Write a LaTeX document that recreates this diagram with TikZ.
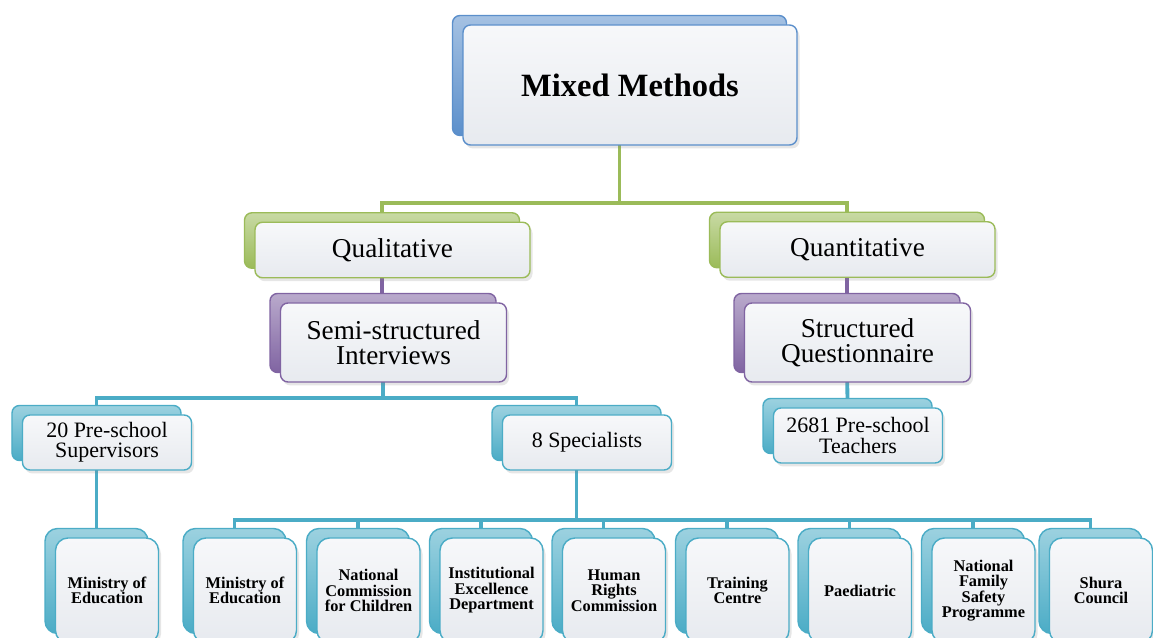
\documentclass[tikz,border=0pt]{standalone}
\usepackage{fontspec}
\setmainfont{Liberation Serif}
\usetikzlibrary{backgrounds, shadows}

\definecolor{mmblue}{HTML}{5B8FCB}
\definecolor{mmgreen}{HTML}{9BBB59}
\definecolor{mmpurple}{HTML}{8064A2}
\definecolor{mmteal}{HTML}{4BACC6}
\definecolor{cardtop}{HTML}{F7F8FA}
\definecolor{cardbot}{HTML}{E7EAEF}

\begin{document}
\begin{tikzpicture}[
    card/.style={draw=#1, line width=0.8pt, rounded corners=0.15cm, top color=cardtop, bottom color=cardbot,
      text=black, align=center, inner sep=1pt, xshift=0.21cm, yshift=-0.19cm,
      drop shadow={opacity=0.2, shadow xshift=0.05cm, shadow yshift=-0.07cm}},
    cardback/.style={draw=#1, line width=0.8pt, rounded corners=0.15cm, top color=#1!55!white, bottom color=#1},
    mmsize/.style={minimum width=6.68cm, minimum height=2.40cm, font=\fontsize{18.5}{20}\selectfont\bfseries},
    levelsize/.style={minimum width=5.50cm, minimum height=1.11cm, font=\fontsize{15.5}{14.3}\selectfont},
    methsize/.style={minimum width=4.52cm, minimum height=1.58cm, font=\fontsize{15.5}{14.3}\selectfont},
    groupsize/.style={minimum width=3.38cm, minimum height=1.10cm, font=\fontsize{12.5}{11.4}\selectfont},
    orgsize/.style={minimum width=2.06cm, minimum height=2.10cm, rounded corners=0.25cm, font=\fontsize{9.3}{8.8}\selectfont\bfseries},
    greenline/.style={draw=mmgreen, line width=2.2pt},
    purpleline/.style={draw=mmpurple, line width=2.2pt},
    tealline/.style={draw=mmteal, line width=2.2pt}
  ]

  \useasboundingbox (0,0) rectangle (23.06,12.76);
  \clip (0,0) rectangle (23.06,12.76);

  % Ebene 0: Gesamtansatz
  \node[cardback=mmblue, mmsize]   (mmB)     at (12.39,11.25) {};
  \node[card=mmblue, mmsize]       (mm)      at (mmB)         {Mixed Methods};

  % Ebene 1: Forschungsstränge
  \node[cardback=mmgreen, levelsize] (qualB)  at (7.64,7.95)  {};
  \node[card=mmgreen, levelsize]     (qual)   at (qualB)      {Qualitative};
  \node[cardback=mmgreen, levelsize] (quantB) at (16.94,7.96) {};
  \node[card=mmgreen, levelsize]     (quant)  at (quantB)     {Quantitative};

  % Ebene 2: Instrumente
  \node[cardback=mmpurple, methsize] (semiB)   at (7.66,6.10)  {};
  \node[card=mmpurple, methsize]     (semi)    at (semiB)      {Semi-structured\\Interviews};
  \node[cardback=mmpurple, methsize] (structB) at (16.94,6.10) {};
  \node[card=mmpurple, methsize]     (struct)  at (structB)    {Structured\\Questionnaire};

  % Ebene 3: Stichproben
  \node[cardback=mmteal, groupsize] (supB)   at (1.93,4.10)  {};
  \node[card=mmteal, groupsize]     (sup)    at (supB)       {20 Pre-school\\Supervisors};
  \node[cardback=mmteal, groupsize] (specB)  at (11.53,4.10) {};
  \node[card=mmteal, groupsize]     (spec)   at (specB)      {8 Specialists};
  \node[cardback=mmteal, groupsize] (teachB) at (16.95,4.24) {};
  \node[card=mmteal, groupsize]     (teach)  at (teachB)     {2681 Pre-school\\Teachers};

  % Ebene 4: Institutionen
  \node[cardback=mmteal, orgsize] (eduaB)  at (1.93,1.14)  {};
  \node[card=mmteal, orgsize]     (edua)   at (eduaB)      {Ministry of\\Education};
  \node[cardback=mmteal, orgsize] (edubB)  at (4.69,1.14)  {};
  \node[card=mmteal, orgsize]     (edub)   at (edubB)      {Ministry of\\Education};
  \node[cardback=mmteal, orgsize] (ncB)    at (7.16,1.14)  {};
  \node[card=mmteal, orgsize]     (nc)     at (ncB)        {National\\Commission\\for Children};
  \node[cardback=mmteal, orgsize] (iedB)   at (9.62,1.14)  {};
  \node[card=mmteal, orgsize]     (ied)    at (iedB)       {Institutional\\Excellence\\Department};
  \node[cardback=mmteal, orgsize] (hrcB)   at (12.07,1.14) {};
  \node[card=mmteal, orgsize]     (hrc)    at (hrcB)       {Human\\Rights\\Commission};
  \node[cardback=mmteal, orgsize] (tcB)    at (14.54,1.14) {};
  \node[card=mmteal, orgsize]     (tc)     at (tcB)        {Training\\Centre};
  \node[cardback=mmteal, orgsize] (paedB)  at (16.99,1.14) {};
  \node[card=mmteal, orgsize]     (paed)   at (paedB)      {Paediatric};
  \node[cardback=mmteal, orgsize] (nfspB)  at (19.46,1.14) {};
  \node[card=mmteal, orgsize]     (nfsp)   at (nfspB)      {National\\Family\\Safety\\Programme};
  \node[cardback=mmteal, orgsize] (shuraB) at (21.81,1.14) {};
  \node[card=mmteal, orgsize]     (shura)  at (shuraB)     {Shura\\Council};

  % Verbindungen hinter den Kästen
  \begin{scope}[on background layer]
    \coordinate (gbar) at (12.39,8.70);
    \draw[greenline] (mmB.south) -- (gbar);
    \draw[greenline] (qualB.north) |- (gbar) -| (quantB.north);

    \draw[purpleline] (qualB.south) -- (qualB.south |- semiB.north);
    \draw[purpleline] (quantB.south) -- (quantB.south |- structB.north);

    \coordinate (tbar1) at (7.66,4.80);
    \draw[tealline] (semiB.south) -- (tbar1);
    \draw[tealline] (supB.north) |- (tbar1) -| (specB.north);
    \draw[tealline] (structB.south) -- (teachB.north);
    \draw[tealline] (supB.south) -- (eduaB.north);

    \coordinate (tbar2) at (11.53,2.36);
    \draw[tealline] (specB.south) -- (tbar2);
    \draw[tealline] (edubB.north) |- (tbar2) -| (shuraB.north);
    \draw[tealline] (ncB.north)   -- (ncB.north |- tbar2);
    \draw[tealline] (iedB.north)  -- (iedB.north |- tbar2);
    \draw[tealline] (hrcB.north)  -- (hrcB.north |- tbar2);
    \draw[tealline] (tcB.north)   -- (tcB.north |- tbar2);
    \draw[tealline] (paedB.north) -- (paedB.north |- tbar2);
    \draw[tealline] (nfspB.north) -- (nfspB.north |- tbar2);
  \end{scope}

\end{tikzpicture}
\end{document}
